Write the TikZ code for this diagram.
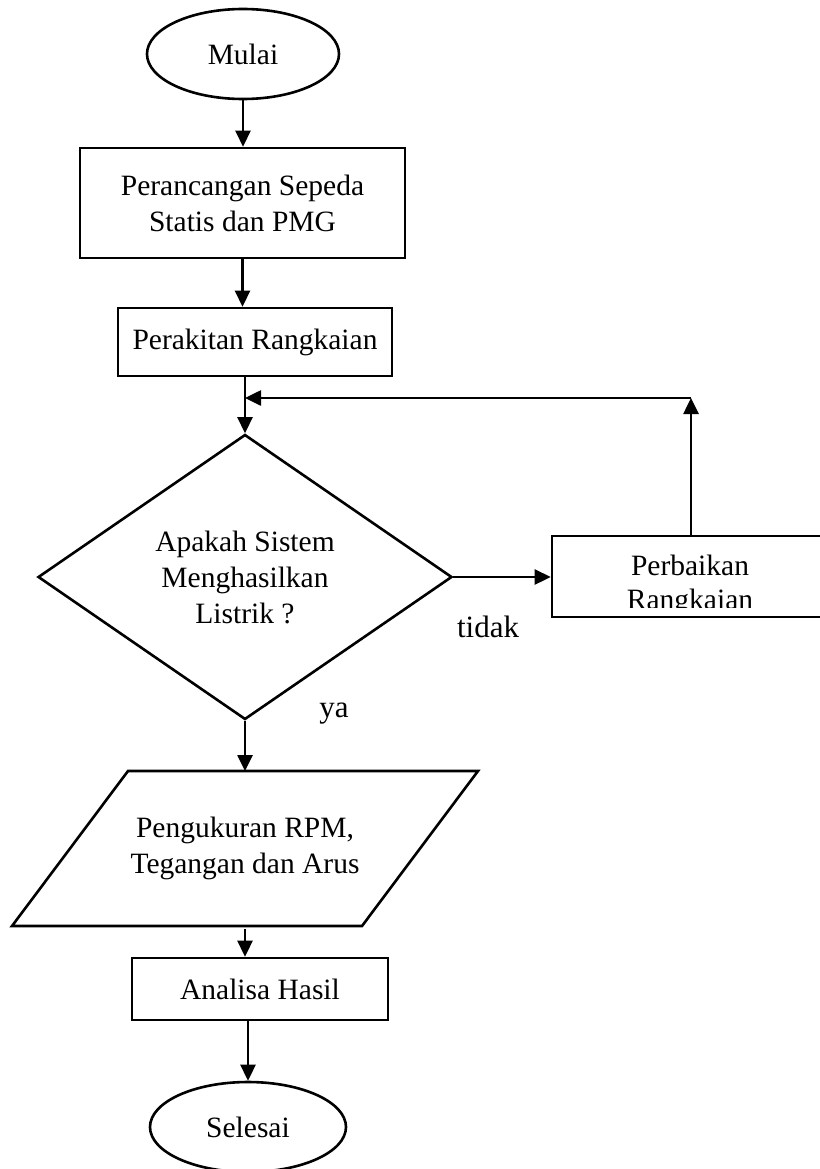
\documentclass[tikz,border=0pt]{standalone}
\usepackage{fontspec}
\setmainfont{Liberation Serif}
\usetikzlibrary{shapes.geometric,arrows.meta}
\begin{document}
\begin{tikzpicture}[x=1pt,y=-1pt,
  line width=2.6pt,
  arr/.style={-{Triangle[length=16pt,width=15pt]}},
  txt/.style={font=\fontsize{29.5}{36}\selectfont, align=center, inner sep=0pt},
  lbl/.style={font=\fontsize{31}{36}\selectfont, inner sep=0pt},
  termbox/.style={draw, ellipse, inner sep=0pt},
  procbox/.style={draw, rectangle, inner sep=0pt}]
\useasboundingbox (0,0) rectangle (819,1169);
\fill[white] (0,0) rectangle (819,1169);

\node[termbox, txt, minimum width=192pt, minimum height=90pt] (start) at (243,54) {Mulai};
\node[procbox, txt, minimum width=325pt, minimum height=110pt] (box1) at (242.5,203) {Perancangan Sepeda\\Statis dan PMG};
\node[procbox, txt, minimum width=274pt, minimum height=68pt] (box2) at (255,342) {Perakitan Rangkaian};
\node[draw, diamond, txt, minimum width=414pt, minimum height=285pt] (dec) at (245,577) {Apakah Sistem\\Menghasilkan\\Listrik ?};
\node[procbox, minimum width=278pt, minimum height=81pt] (fix) at (691,576.5) {};
\begin{scope}
  \clip (553,537) rectangle (830,607);
  \node[font=\fontsize{29.5}{33}\selectfont, inner sep=0pt, anchor=base] (fixa) at (690,575) {Perbaikan};
  \node[font=\fontsize{29.5}{33}\selectfont, inner sep=0pt, anchor=base] (fixb) at (690,609) {Rangkaian};
\end{scope}
\draw (128,771) -- (478,771) -- (362,926) -- (12,926) -- cycle;
\node[txt] (par) at (245,848) {Pengukuran RPM,\\Tegangan dan Arus};
\coordinate (ptop) at (245,771);
\coordinate (pbot) at (245,929);
\node[procbox, txt, minimum width=256pt, minimum height=62pt] (box3) at (260,989) {Analisa Hasil};
\node[termbox, txt, minimum width=196pt, minimum height=90pt] (stop) at (248,1127) {Selesai};

\coordinate (corner) at (691,398);

\draw[arr] (start.south) -- (start.south |- box1.north);
\draw[arr] (box1.south) -- (box1.south |- box2.north);
\draw (dec.north |- box2.south) -- (dec.north |- corner);
\draw[arr] (dec.north |- corner) -- (dec.north);
\draw[arr] (dec.east) -- (fix.west |- dec.east);
\draw[arr] (fix.north) -- (corner);
\draw[arr] (corner) -- (corner -| dec.north);
\draw[arr] (dec.south) -- (ptop);
\draw[arr] (pbot) -- (pbot |- box3.north);
\draw[arr] (box3.south -| stop.north) -- (stop.north);

\node[lbl] (tidak) at (488,627) {tidak};
\node[lbl] (ya) at (334,714) {ya};
\end{tikzpicture}
\end{document}
